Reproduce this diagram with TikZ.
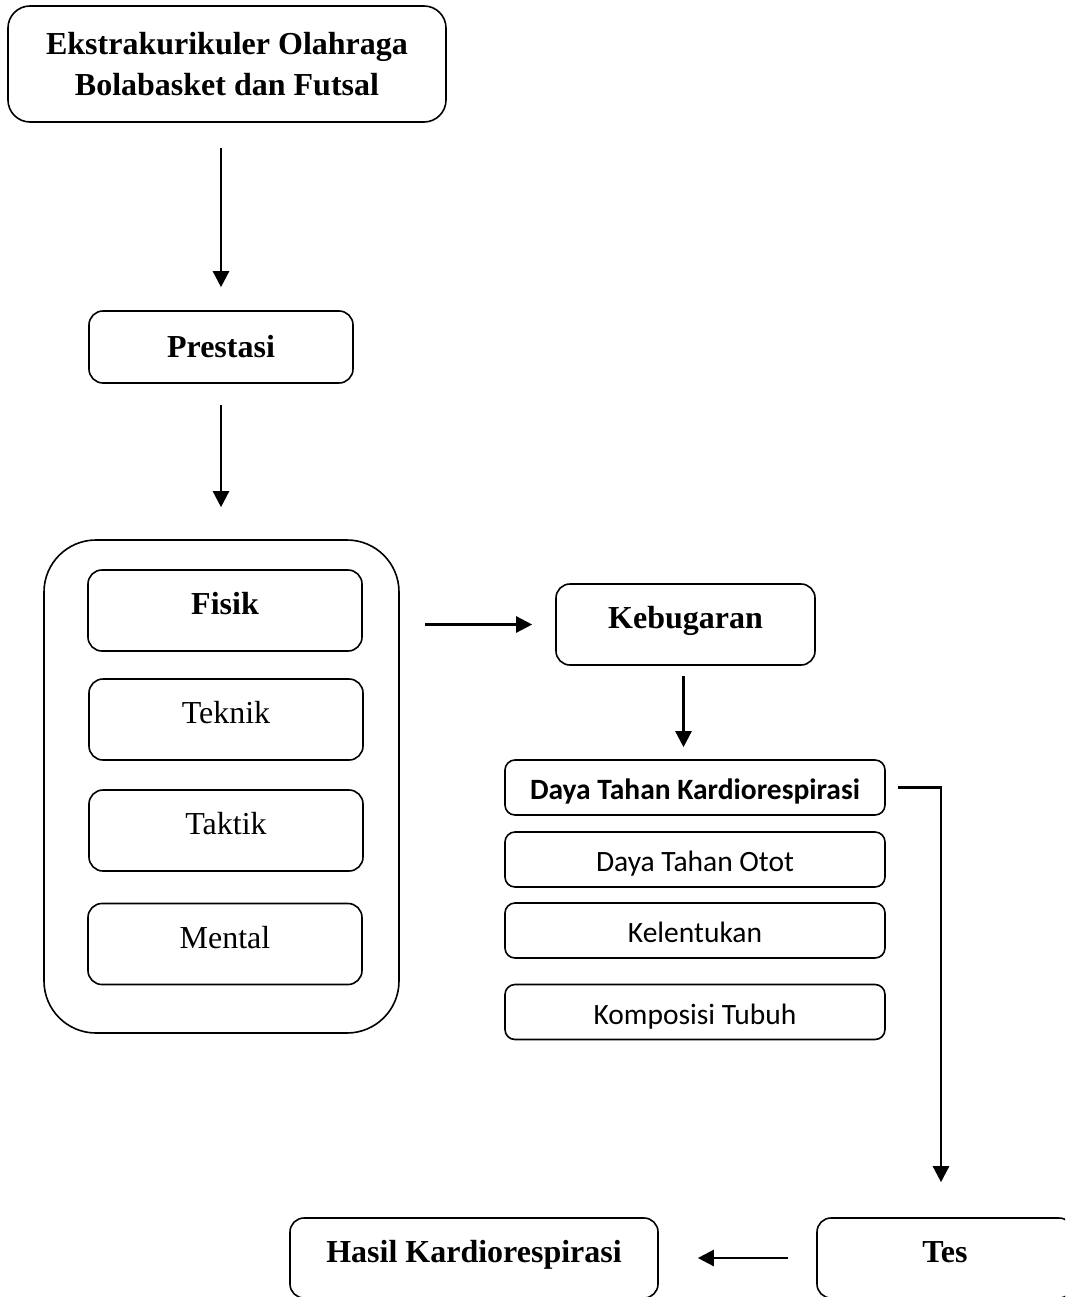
\documentclass[tikz,border=0pt]{standalone}
\usepackage{fontspec}
\setmainfont{Liberation Serif}
\newfontfamily\calibri{Carlito}
\usepackage{tikz}
\usetikzlibrary{calc,positioning,arrows.meta}
\tikzset{
  line/.style={-{Triangle[length=16pt, width=16pt]}, line width=2.4pt},
  box/.style={draw, rounded corners=14pt, align=center, line width=1.6pt, inner sep=3pt,
    font=\fontsize{32}{41}\selectfont},
  bigbox/.style={box, rounded corners=22pt, minimum width=438pt, minimum height=116pt},
  midbox/.style={box, minimum width=264pt, minimum height=72pt},
  itembox/.style={box, minimum width=274pt, minimum height=81pt, text height=22pt, text depth=14pt},
  groupbox/.style={box, rounded corners=52pt, minimum width=355pt, minimum height=493pt},
  barbox/.style={box, rounded corners=10pt, minimum width=380pt, minimum height=55pt,
    text height=30pt, text depth=6pt, font=\calibri\fontsize{29.5}{35}\selectfont},
  endbox/.style={box, minimum height=80pt, text height=22pt, text depth=14pt}
}
\begin{document}
\begin{tikzpicture}[x=1pt, y=-1pt]
  \useasboundingbox (0,0) rectangle (1065,1297);
  \clip (0,0) rectangle (1065,1297);

  \node[bigbox, font=\bfseries\fontsize{32}{41}\selectfont] (ekstra) at (227,64) {Ekstrakurikuler Olahraga\\Bolabasket dan Futsal};
  \node[midbox, font=\bfseries\fontsize{32}{41}\selectfont] (prestasi) at (221,347) {Prestasi};

  \node[groupbox] (komponen) at (221.5,786.5) {};
  \node[itembox, font=\bfseries\fontsize{32}{41}\selectfont] (fisik) at (225,610.5) {Fisik};
  \node[itembox] (teknik) at (226,719.5) {Teknik};
  \node[itembox] (taktik) at (226,830.5) {Taktik};
  \node[itembox] (mental) at (225,944) {Mental};

  \node[itembox, minimum width=259pt, font=\bfseries\fontsize{32}{41}\selectfont] (kebugaran) at (685.5,624.5) {Kebugaran};
  \node[barbox, font=\calibri\bfseries\fontsize{29.5}{35}\selectfont] (kardio) at (695,787.5) {Daya Tahan Kardiorespirasi};
  \node[barbox] (otot) at (695,859.5) {Daya Tahan Otot};
  \node[barbox] (lentuk) at (695,930.5) {Kelentukan};
  \node[barbox] (tubuh) at (695,1012) {Komposisi Tubuh};

  \node[endbox, minimum width=256pt, font=\bfseries\fontsize{32}{41}\selectfont] (tes) at (945,1258) {Tes};
  \node[endbox, minimum width=368pt, font=\bfseries\fontsize{32}{41}\selectfont] (hasil) at (474,1258) {Hasil Kardiorespirasi};

  \coordinate (turun) at ($(tes.north)+(-4,0)$);

  \draw[line, shorten <=25pt, shorten >=23pt] (ekstra.south -| prestasi.north) -- (prestasi.north);
  \draw[line, shorten <=21pt, shorten >=32pt] (prestasi.south) -- (prestasi.south |- komponen.north);
  \draw[line, shorten <=25pt, shorten >=23pt] (komponen.east |- kebugaran.west) -- (kebugaran.west);
  \draw[line, shorten <=10pt, shorten >=12pt] ([xshift=-2pt]kebugaran.south) -- ([xshift=-2pt]kebugaran.south |- kardio.north);
  \draw[line, shorten <=12pt, shorten >=35pt] (kardio.east) -| (turun);
  \draw[line, shorten <=28pt, shorten >=39pt] (tes.west) -- (hasil.east);
\end{tikzpicture}
\end{document}
